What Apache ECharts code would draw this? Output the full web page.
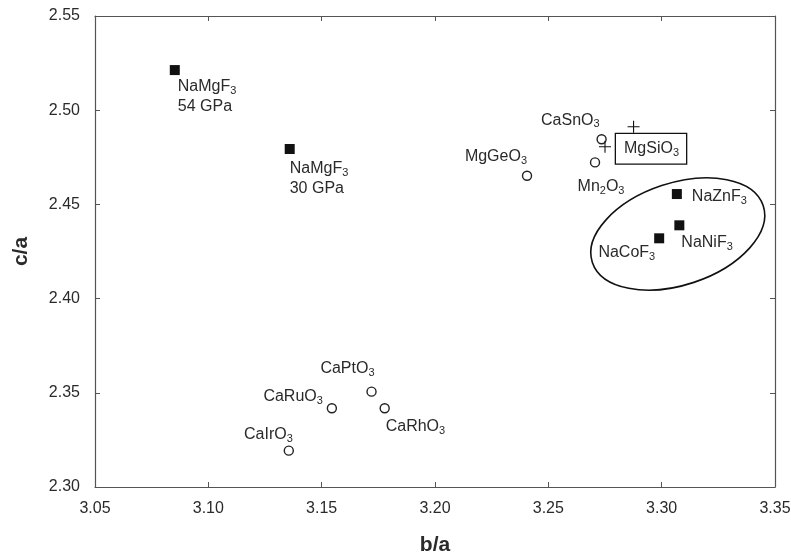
<!DOCTYPE html>
<html>
<head>
<meta charset="utf-8">
<script src="https://cdn.jsdelivr.net/npm/echarts@6/dist/echarts.min.js"></script>
<style>
  html, body { margin: 0; padding: 0; background: #fff; }
  #main { width: 791px; height: 554px; }
</style>
</head>
<body>
<div id="main"></div>
<script>
// fluorides (filled squares)
const squareNames = ['NaMgF{s|3}\n54 GPa', 'NaMgF{s|3}\n30 GPa', 'NaZnF{s|3}', 'NaNiF{s|3}', 'NaCoF{s|3}']
const squareX = [3.0852, 3.1359, 3.3067, 3.3078, 3.2989]
const squareY = [2.5213, 2.4794, 2.4555, 2.4389, 2.4320]

// oxides (open circles)
const circleNames = ['CaSnO{s|3}', 'Mn{s|2}O{s|3}', 'MgGeO{s|3}', 'CaPtO{s|3}', 'CaRuO{s|3}', 'CaRhO{s|3}', 'CaIrO{s|3}']
const circleX = [3.2735, 3.2706, 3.2406, 3.1720, 3.1545, 3.1778, 3.1355]
const circleY = [2.4846, 2.4723, 2.4652, 2.3506, 2.3418, 2.3418, 2.3193]

// MgSiO3 (crosses)
const crossNames = ['MgSiO{s|3}', '']
const crossX = [3.2750, 3.2876]
const crossY = [2.4806, 2.4912]

const xTicks = [3.05, 3.10, 3.15, 3.20, 3.25, 3.30, 3.35]
const yTicks = [2.30, 2.35, 2.40, 2.45, 2.50, 2.55]

// ellipse round the fluoride group, centre in data units
const ellipseCenter = [3.3071, 2.4343]

// label placement: [dx, dy, align, verticalAlign] from the marker centre
const squareLabelPos = [
    [3, 7, 'left', 'top'],
    [0, 10, 'left', 'top'],
    [15, 2.5, 'left', 'middle'],
    [2, 17.5, 'left', 'middle'],
    [-4, 14, 'right', 'middle']
]
const circleLabelPos = [
    [-2, -19, 'right', 'middle'],
    [6, 24, 'center', 'middle'],
    [0, -19, 'right', 'middle'],
    [3, -23, 'right', 'middle'],
    [-9, -12, 'right', 'middle'],
    [1, 18, 'left', 'middle'],
    [4, -16, 'right', 'middle']
]
const crossLabelPos = [
    [11, 2, 'left', 'middle'],
    [0, 0, 'left', 'middle']
]

const textColor = '#2a2a2a'
const axisColor = '#555'
const fontFamily = '"Liberation Sans", Arial, Helvetica, sans-serif'

const richStyle = {
    s: { fontSize: 11, lineHeight: 12, verticalAlign: 'bottom', color: textColor, fontFamily: fontFamily }
}

function buildData(names, xs, ys, pos, extra) {
    return names.map((n, i) => {
        let p = pos[i]
        let label = {
            show: n !== '',
            formatter: n,
            position: ['50%', '50%'],
            offset: [p[0], p[1]],
            align: p[2],
            verticalAlign: p[3],
            fontSize: 16,
            lineHeight: 19.5,
            color: textColor,
            fontFamily: fontFamily,
            rich: richStyle
        }
        if (extra && extra[i]) Object.assign(label, extra[i])
        return { value: [xs[i], ys[i]], label: label }
    })
}

const chart = echarts.init(document.getElementById('main'))

chart.setOption({
    animation: false,
    backgroundColor: '#fff',
    grid: { left: 95, right: 16, top: 16, bottom: 67, containLabel: false, outerBoundsMode: 'none' },
    xAxis: [{
        type: 'value',
        min: xTicks[0], max: xTicks[xTicks.length - 1], interval: 0.05,
        name: 'b/a',
        nameLocation: 'middle',
        nameGap: 48,
        nameTextStyle: { fontSize: 21, fontWeight: 'bold', color: textColor, fontFamily: fontFamily },
        axisLine: { lineStyle: { color: axisColor, width: 1.2 } },
        axisTick: { inside: true, length: 5, lineStyle: { color: axisColor } },
        axisLabel: { fontSize: 16, color: textColor, fontFamily: fontFamily, margin: 14, formatter: v => v.toFixed(2) },
        splitLine: { show: false }
    }, {
        type: 'value', position: 'top',
        min: xTicks[0], max: xTicks[xTicks.length - 1], interval: 0.05,
        axisLine: { lineStyle: { color: axisColor, width: 1.2 } },
        axisTick: { inside: true, length: 5, lineStyle: { color: axisColor } },
        axisLabel: { show: false },
        splitLine: { show: false }
    }],
    yAxis: [{
        type: 'value',
        min: yTicks[0], max: yTicks[yTicks.length - 1], interval: 0.05,
        name: 'c/a',
        nameLocation: 'middle',
        nameGap: 63,
        nameTextStyle: { fontSize: 21, fontWeight: 'bold', color: textColor, fontFamily: fontFamily },
        axisLine: { lineStyle: { color: axisColor, width: 1.2 } },
        axisTick: { inside: true, length: 5, lineStyle: { color: axisColor } },
        axisLabel: { fontSize: 16, color: textColor, fontFamily: fontFamily, margin: 15, formatter: v => v.toFixed(2) },
        splitLine: { show: false }
    }, {
        type: 'value', position: 'right',
        min: yTicks[0], max: yTicks[yTicks.length - 1], interval: 0.05,
        axisLine: { lineStyle: { color: axisColor, width: 1.2 } },
        axisTick: { inside: true, length: 5, lineStyle: { color: axisColor } },
        axisLabel: { show: false },
        splitLine: { show: false }
    }],
    series: [{
        type: 'scatter',
        symbol: 'rect',
        symbolSize: 10,
        itemStyle: { color: '#111', opacity: 1 },
        data: buildData(squareNames, squareX, squareY, squareLabelPos)
    }, {
        type: 'scatter',
        symbol: 'circle',
        symbolSize: 9,
        itemStyle: { color: '#fff', borderColor: '#222', borderWidth: 1.4, opacity: 1 },
        data: buildData(circleNames, circleX, circleY, circleLabelPos)
    }, {
        type: 'scatter',
        symbol: 'path://M6,0 L6,12 M0,6 L12,6',
        symbolSize: 12,
        itemStyle: { color: 'none', borderColor: '#111', borderWidth: 1.1, opacity: 1 },
        data: buildData(crossNames, crossX, crossY, crossLabelPos, [{
            borderColor: '#111', borderWidth: 1.3, padding: [5, 7, 5, 8], backgroundColor: '#fff'
        }])
    }]
})

// ellipse drawn after the axes are laid out
let c = chart.convertToPixel({ gridIndex: 0 }, ellipseCenter)
chart.setOption({
    graphic: [{
        type: 'ellipse',
        x: c[0], y: c[1],
        rotation: 18.4 * Math.PI / 180,
        shape: { cx: 0, cy: 0, rx: 90, ry: 51 },
        style: { fill: 'none', stroke: '#111', lineWidth: 1.6 },
        z: 1
    }]
})
</script>
</body>
</html>
